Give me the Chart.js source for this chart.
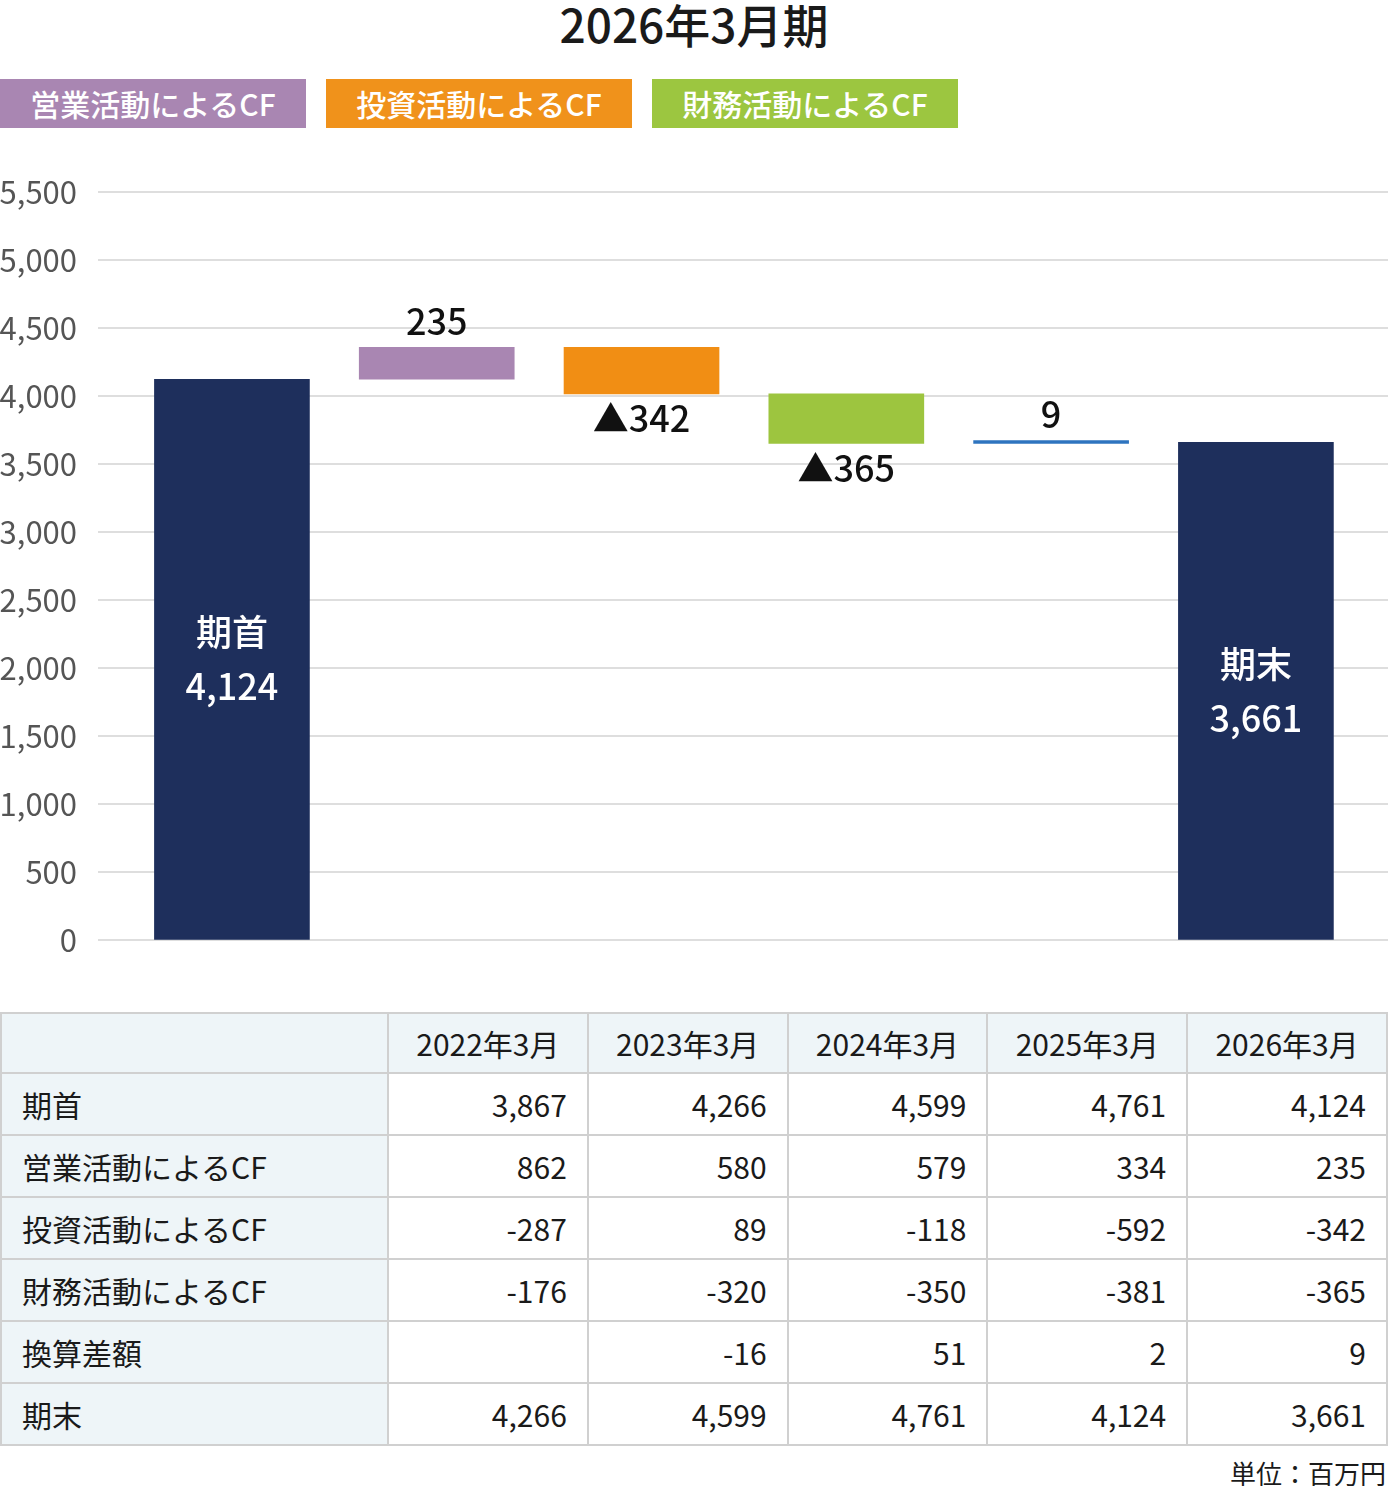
<!DOCTYPE html>
<html lang="ja">
<head>
<meta charset="utf-8">
<script src="https://cdn.jsdelivr.net/npm/chart.js@4.4.1/dist/chart.umd.min.js"></script>
<style>
  body { margin: 0; background: #fff; font-family: "Noto Sans CJK JP", "Noto Sans", sans-serif; color: #1a1a1a; }
  #page { position: relative; width: 1388px; height: 1486px; }
  #title { position: absolute; top: -2px; left: 0; width: 1388px; text-align: center; font-size: 46px; font-weight: 500; line-height: 50px; }
  .legend { position: absolute; top: 79px; height: 49px; width: 306px; color: #fff; font-size: 30px; line-height: 49px; text-align: center; font-weight: 500; }
  #chartBox { position: absolute; left: 0; top: 150px; width: 1388px; height: 830px; }
  table { position: absolute; left: 0; top: 1012px; width: 1388px; border-collapse: collapse; font-size: 30px; }
  td, th { border: 2px solid #d0d0d0; height: 60px; padding: 0 20px; font-weight: 400; }
  th { background: #eef5f8; text-align: center; height: 58px; }
  td { text-align: right; }
  td.head { background: #eef5f8; text-align: left; }
  #unit { position: absolute; right: 2px; top: 1454px; font-size: 26px; }
</style>
</head>
<body>
<div id="page">
  <div id="title"></div>
  <div id="legendBox"></div>
  <div id="chartBox"><canvas id="cfChart"></canvas></div>
  <table id="cfTable"></table>
  <div id="unit">単位：百万円</div>
</div>
<script>
var chartTitle = "2026年3月期"
var categories = ["期首", "営業活動によるCF", "投資活動によるCF", "財務活動によるCF", "換算差額", "期末"]
var openingBalance = 4124
var cfChanges = [235, -342, -365, 9]
var closingBalance = 3661
var barColours = ["#1e2f5c", "#a986b2", "#f18e14", "#9dc53f", "#2e74bf", "#1e2f5c"]
var legendNames = ["営業活動によるCF", "投資活動によるCF", "財務活動によるCF"]
var legendColours = ["#a986b2", "#f0921b", "#9cc640"]
var yTicks = [0, 500, 1000, 1500, 2000, 2500, 3000, 3500, 4000, 4500, 5000, 5500]

var tableYears = ["2022年3月", "2023年3月", "2024年3月", "2025年3月", "2026年3月"]
var rowNames = ["期首", "営業活動によるCF", "投資活動によるCF", "財務活動によるCF", "換算差額", "期末"]
var rowOpening = ["3,867", "4,266", "4,599", "4,761", "4,124"]
var rowOperating = ["862", "580", "579", "334", "235"]
var rowInvesting = ["-287", "89", "-118", "-592", "-342"]
var rowFinancing = ["-176", "-320", "-350", "-381", "-365"]
var rowExchange = ["", "-16", "51", "2", "9"]
var rowClosing = ["4,266", "4,599", "4,761", "4,124", "3,661"]

document.getElementById("title").textContent = chartTitle

// legend boxes
var legendBox = document.getElementById("legendBox")
legendNames.forEach(function(name, i){
    let d = document.createElement("div")
    d.className = "legend"
    d.style.left = (i * 326) + "px"
    d.style.background = legendColours[i]
    d.textContent = name
    legendBox.appendChild(d)
})

// table
var tableRows = [rowOpening, rowOperating, rowInvesting, rowFinancing, rowExchange, rowClosing]
var html = "<tr><th style='width:345px'></th>"
tableYears.forEach(function(y){ html += "<th>" + y + "</th>" })
html += "</tr>"
tableRows.forEach(function(r, i){
    html += "<tr><td class='head'>" + rowNames[i] + "</td>"
    r.forEach(function(v){ html += "<td>" + v + "</td>" })
    html += "</tr>"
})
document.getElementById("cfTable").innerHTML = html

// waterfall ranges
var ranges = [[0, openingBalance]]
var running = openingBalance
cfChanges.forEach(function(c){
    ranges.push([running, running + c])
    running += c
})
ranges.push([0, closingBalance])

var points = ranges.map(function(r, i){ return { x: i, y: r } })

function fmt(v){ return v.toLocaleString("en-US") }

var labelPlugin = {
    id: "barLabels",
    afterDatasetsDraw: function(chart){
        let ctx = chart.ctx
        let meta = chart.getDatasetMeta(0)
        ctx.save()
        ctx.textAlign = "center"
        ctx.textBaseline = "middle"
        ctx.font = "500 36px 'Noto Sans CJK JP'"
        meta.data.forEach(function(bar, i){
            let x = bar.x
            let top = Math.min(bar.y, bar.base)
            let bottom = Math.max(bar.y, bar.base)
            if (i == 0 || i == categories.length - 1){
                let v = i == 0 ? openingBalance : closingBalance
                let mid = (top + bottom) / 2
                ctx.fillStyle = "#ffffff"
                ctx.fillText(categories[i], x, mid - 27)
                ctx.fillText(fmt(v), x, mid + 27)
            } else {
                let c = cfChanges[i - 1]
                ctx.fillStyle = "#111111"
                if (c >= 0){
                    ctx.fillText(fmt(c), x, top - 26)
                } else {
                    ctx.fillText("▲" + fmt(-c), x, bottom + 25)
                }
            }
        })
        ctx.restore()
    }
}

var ctx = document.getElementById("cfChart").getContext("2d")
var myChart = new Chart(ctx, {
    type: "bar",
    data: {
        labels: categories,
        datasets: [{
            data: points,
            backgroundColor: barColours,
            borderWidth: 0,
            barThickness: 155,
            minBarLength: 3
        }]
    },
    options: {
        responsive: true,
        maintainAspectRatio: false,
        animation: false,
        layout: { padding: { top: 42, right: 0, bottom: 13, left: 0 } },
        scales: {
            x: {
                type: "linear",
                display: false,
                offset: false,
                min: -0.654,
                max: 5.645
            },
            y: {
                min: 0,
                max: 5500,
                afterBuildTicks: function(axis){
                    axis.ticks = yTicks.map(function(v){ return { value: v } })
                },
                afterFit: function(axis){ axis.width = 98 },
                border: { display: false },
                grid: { color: "#dedede", lineWidth: 2, drawTicks: false },
                ticks: {
                    color: "#555555",
                    padding: 21,
                    font: { family: "'Noto Sans CJK JP'", size: 31 },
                    callback: function(v){ return fmt(v) }
                }
            }
        },
        plugins: {
            legend: { display: false },
            tooltip: { enabled: false }
        }
    },
    plugins: [labelPlugin]
})
</script>
</body>
</html>
